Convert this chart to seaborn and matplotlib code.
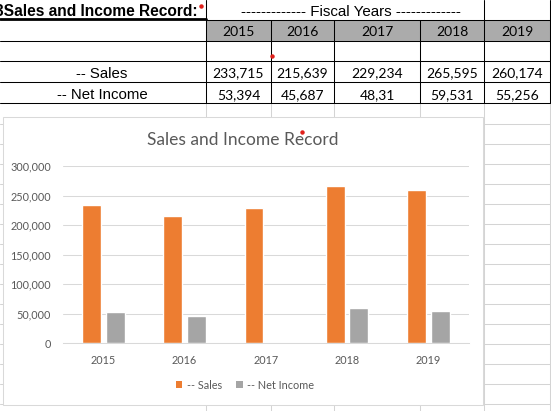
import matplotlib
matplotlib.use('Agg')
import matplotlib.pyplot as plt
from matplotlib.lines import Line2D
from matplotlib.patches import Rectangle
from matplotlib.ticker import FuncFormatter
import numpy as np
import pandas as pd
import seaborn as sns

# data -------------------------------------------------------------------
years = ['2015', '2016', '2017', '2018', '2019']
sales = [233715, 215639, 229234, 265595, 260174]
net_income = [53394, 45687, 48.31, 59531, 55256]
series_names = ['-- Sales', '-- Net Income']
# values as the sheet shows them
sales_cells = ['233,715', '215,639', '229,234', '265,595', '260,174']
net_cells = ['53,394', '45,687', '48,31', '59,531', '55,256']

colors = ['#ED7D31', '#A5A5A5']
text_grey = '#595959'
sheet_grey = '#d4d4d4'

W, H = 551, 411


def fx(x):
    return x / W


def fy(y):
    return 1 - y / H


sns.set_theme(style='white')
fig = plt.figure(figsize=(W / 100, H / 100), dpi=100)


def line(xs, ys, color='black', lw=0.75, z=1):
    fig.add_artist(Line2D([fx(x) for x in xs], [fy(y) for y in ys], color=color,
                          lw=lw, transform=fig.transFigure, zorder=z))


## spreadsheet background ------------------------------------------------
for y in np.arange(124, 411, 20):
    line([0, W], [y, y], color=sheet_grey)
for x in [206, 271, 334, 420, 484, 550]:
    line([x, x], [103, H], color=sheet_grey)

# table
fig.add_artist(Rectangle((fx(206), fy(41)), fx(550) - fx(206), fy(20) - fy(41),
                         facecolor='#ababab', edgecolor='none',
                         transform=fig.transFigure, zorder=0.5))
line([0, 206], [19, 19], lw=2.0)
line([206, 550], [20, 20])
for y in [41, 61, 82, 103]:
    line([0, 550], [y, y])
for x in [206, 484, 550]:
    line([x, x], [0, 103])
for x in [271, 334, 420]:
    line([x, x], [20, 103])

arial = 'Liberation Sans'
fig.text(fx(-5), fy(16), '3Sales and Income Record:', ha='left', va='baseline',
         fontsize=11.2, weight='bold', family=arial, color='black')
fig.text(fx(350.5), fy(16), '------------- Fiscal Years -------------', ha='center',
         va='baseline', fontsize=10.9, family=arial, color='black')
fig.text(fx(102), fy(77.5), series_names[0], ha='center', va='baseline',
         fontsize=10.8, family=arial, color='black')
fig.text(fx(102), fy(99), series_names[1], ha='center', va='baseline',
         fontsize=10.8, family=arial, color='black')

col_edges = [206, 271, 334, 420, 484, 550]
for i, yr in enumerate(years):
    cx = (col_edges[i] + col_edges[i + 1]) / 2
    fig.text(fx(cx), fy(36.5), yr, ha='center', va='baseline', fontsize=10,
             family='Lato', color='black')
    fig.text(fx(cx), fy(77.5), sales_cells[i], ha='center', va='baseline', fontsize=10,
             family='Lato', color='black')
    fig.text(fx(cx), fy(99), net_cells[i], ha='center', va='baseline', fontsize=10,
             family='Lato', color='black')

## chart -----------------------------------------------------------------
fig.add_artist(Rectangle((fx(3), fy(405)), fx(483) - fx(3), fy(117) - fy(405),
                         facecolor='white', edgecolor='#d9d9d9', lw=0.75,
                         transform=fig.transFigure, zorder=2))

ax = fig.add_axes([fx(62.7), fy(343.3), fx(469) - fx(62.7), fy(166) - fy(343.3)])
ax.set_zorder(3)
ax.patch.set_alpha(0)

df = pd.DataFrame({'year': years * 2,
                   'value': sales + net_income,
                   'series': [series_names[0]] * len(years) + [series_names[1]] * len(years)})
sns.barplot(data=df, x='year', y='value', hue='series', palette=colors, saturation=1,
            width=0.58, gap=0.2, errorbar=None, legend=False, ax=ax)

ax.set_xlim(-0.5, len(years) - 0.5)
ax.set_ylim(0, 300000)
ax.set_yticks(np.arange(0, 300001, 50000))
ax.yaxis.set_major_formatter(FuncFormatter(lambda v, p: f'{int(v):,}'))
ax.grid(axis='y', color='#d9d9d9', lw=0.75)
ax.set_axisbelow(True)
for s in ['top', 'right', 'left']:
    ax.spines[s].set_visible(False)
ax.spines['bottom'].set_color('#d9d9d9')
ax.spines['bottom'].set_linewidth(0.75)
ax.set_xlabel('')
ax.set_ylabel('')
ax.set_xticks(np.arange(-0.5, len(years), 1), minor=True)
ax.tick_params(axis='x', which='major', length=0, pad=8.3, labelsize=7.8, labelcolor=text_grey)
ax.tick_params(axis='x', which='minor', length=3, width=0.75, color='#d9d9d9', direction='out')
ax.tick_params(axis='y', length=0, pad=8.4, labelsize=7.8, labelcolor=text_grey)
for lab in ax.get_xticklabels() + ax.get_yticklabels():
    lab.set_family('Lato')

fig.text(fx(243), fy(140), 'Sales and Income Record', ha='center', va='center',
         fontsize=12.5, family='Lato', color=text_grey, zorder=4)

handles = [Rectangle((0, 0), 1, 1, facecolor=c, edgecolor='none') for c in colors]
fig.legend(handles, series_names, loc='center', bbox_to_anchor=(fx(245), fy(385)), ncol=2,
           frameon=False, prop={'family': 'Lato', 'size': 7.8}, labelcolor=text_grey,
           handlelength=0.6, handleheight=0.6, handletextpad=0.45, columnspacing=1.3)

# red comment markers
for x, y in [(200.5, 5.7), (271.7, 56), (301.7, 132)]:
    fig.add_artist(Line2D([fx(x)], [fy(y)], marker='o', markersize=2.2, color='#e0201b',
                          lw=0, transform=fig.transFigure, zorder=6))

fig.savefig('out.png', dpi=100)
